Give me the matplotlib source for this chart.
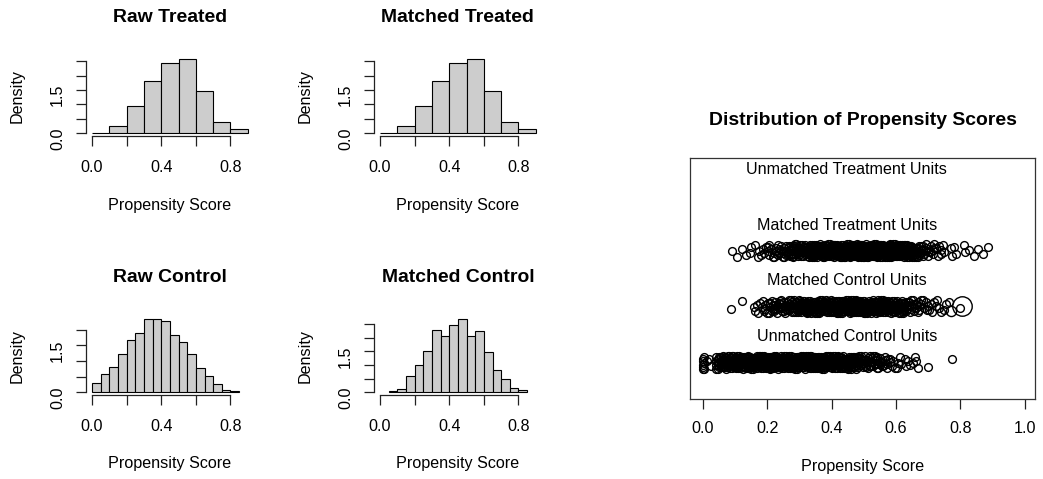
import numpy as np
import matplotlib
matplotlib.use("Agg")
import matplotlib.pyplot as plt

plt.rcParams['font.family'] = ['Liberation Sans', 'DejaVu Sans']

# histogram breaks and densities
treated_breaks = [0.0, 0.1, 0.2, 0.3, 0.4, 0.5, 0.6, 0.7, 0.8, 0.9]
raw_treated_density = [0.01, 0.24, 0.94, 1.80, 2.43, 2.57, 1.48, 0.38, 0.16]
matched_treated_density = [0.01, 0.24, 0.94, 1.80, 2.43, 2.57, 1.48, 0.38, 0.16]

raw_control_breaks = [0.0, 0.05, 0.1, 0.15, 0.2, 0.25, 0.3, 0.35, 0.4, 0.45,
                      0.5, 0.55, 0.6, 0.65, 0.7, 0.75, 0.8, 0.85]
raw_control_density = [0.31, 0.57, 0.81, 1.21, 1.67, 1.88, 2.34, 2.34, 2.29,
                       1.83, 1.60, 1.21, 0.79, 0.52, 0.26, 0.07, 0.04]

matched_control_breaks = [0.05, 0.1, 0.15, 0.2, 0.25, 0.3, 0.35, 0.4, 0.45,
                          0.5, 0.55, 0.6, 0.65, 0.7, 0.75, 0.8, 0.85]
matched_control_density = [0.05, 0.12, 0.59, 0.99, 1.49, 2.28, 2.04, 2.46,
                           2.68, 2.04, 2.24, 1.48, 0.82, 0.50, 0.15, 0.10]

# jitter plot: number of units per 0.02-wide propensity score bin (0.00 .. 0.90),
# estimated from the density of the bands
score_bin_starts = [0.00, 0.02, 0.04, 0.06, 0.08, 0.10, 0.12, 0.14, 0.16, 0.18,
                    0.20, 0.22, 0.24, 0.26, 0.28, 0.30, 0.32, 0.34, 0.36, 0.38,
                    0.40, 0.42, 0.44, 0.46, 0.48, 0.50, 0.52, 0.54, 0.56, 0.58,
                    0.60, 0.62, 0.64, 0.66, 0.68, 0.70, 0.72, 0.74, 0.76, 0.78,
                    0.80, 0.82, 0.84, 0.86, 0.88]
matched_treated_counts = [0, 0, 0, 0, 1, 1, 2, 2, 3, 4,
                          6, 8, 10, 12, 14, 16, 18, 20, 22, 23,
                          24, 25, 26, 27, 27, 28, 28, 27, 27, 26,
                          22, 19, 15, 12, 9, 6, 4, 3, 2, 2,
                          2, 1, 2, 1, 1]
matched_control_counts = [0, 0, 0, 0, 1, 0, 1, 1, 4, 6,
                          8, 9, 11, 13, 15, 19, 20, 19, 18, 20,
                          21, 22, 23, 23, 22, 18, 19, 20, 20, 18,
                          13, 12, 10, 8, 5, 4, 4, 2, 1, 1,
                          0, 0, 0, 0, 0]
unmatched_control_counts = [0, 2, 16, 19, 20, 21, 22, 22, 23, 23,
                            24, 24, 24, 24, 24, 24, 23, 23, 22, 22,
                            21, 20, 18, 16, 14, 12, 10, 8, 6, 5,
                            4, 3, 3, 2, 1, 0, 0, 0, 1, 0,
                            0, 0, 0, 0, 0]
# control units sitting right at a score of zero
zero_control_ps = [0.000, 0.000, 0.000, 0.001, 0.001, 0.002, 0.002, 0.003, 0.012]

# matched controls carrying a larger weight (drawn as bigger circles)
heavy_control_ps = [0.806, 0.772, 0.532, 0.448]
heavy_control_weight = [2.5, 1.3, 1.5, 1.3]

row_labels = ["Unmatched Treatment Units", "Matched Treatment Units",
              "Matched Control Units", "Unmatched Control Units"]

W, H = 1043, 479
BASE = 11.6
fig = plt.figure(figsize=(W / 100, H / 100), dpi=100)


def px_rect(left, top, right, bottom):
    return [left / W, 1 - bottom / H, (right - left) / W, (bottom - top) / H]


# one R-style histogram panel
def hist_panel(rect, breaks, density, title, ytop):
    ax = fig.add_axes(rect)
    b = np.array(breaks)
    ax.bar(b[:-1], density, width=np.diff(b), align='edge', color='#cdcdcd',
           edgecolor='black', linewidth=0.8)
    top = max(density)
    ax.set_xlim(-0.036, 0.936)
    ax.set_ylim(-0.04 * top, 1.04 * top)

    yt = np.arange(0, ytop + 0.01, 0.5)
    ax.set_yticks(yt)
    ax.set_yticklabels(['0.0' if abs(v) < 1e-9 else '1.5' if abs(v - 1.5) < 1e-9 else '' for v in yt])
    ax.set_xticks([0, 0.2, 0.4, 0.6, 0.8])
    ax.set_xticklabels(['0.0', '', '0.4', '', '0.8'])

    for s in ['top', 'right']:
        ax.spines[s].set_visible(False)
    ax.spines['left'].set_bounds(0, ytop)
    ax.spines['bottom'].set_bounds(0, 0.8)
    for s in ['left', 'bottom']:
        ax.spines[s].set_color('#222222')
        ax.spines[s].set_linewidth(0.9)

    ax.tick_params(axis='both', direction='out', length=7, width=0.9,
                   color='#222222', labelsize=BASE)
    ax.tick_params(axis='x', pad=10)
    ax.tick_params(axis='y', pad=8, labelrotation=90)

    ax.set_xlabel("Propensity Score", fontsize=BASE, va='center')
    ax.xaxis.set_label_coords(0.5, -0.86)
    ax.set_ylabel("Density", fontsize=BASE, va='center')
    ax.yaxis.set_label_coords(-0.41, 0.5)
    ax.text(0.5, 1.48, title, transform=ax.transAxes, ha='center', va='center',
            fontsize=BASE * 1.2, fontweight='bold')
    return ax


hist_panel(px_rect(85.8, 56.1, 254, 136.3), treated_breaks, raw_treated_density, "Raw Treated", 2.5)
hist_panel(px_rect(373.8, 56.1, 542, 136.3), treated_breaks, matched_treated_density, "Matched Treated", 2.5)
hist_panel(px_rect(85.8, 316, 254, 395.2), raw_control_breaks, raw_control_density, "Raw Control", 2.0)
hist_panel(px_rect(373.8, 316, 542, 395.2), matched_control_breaks, matched_control_density, "Matched Control", 2.5)

# jitter plot of the propensity scores
ax = fig.add_axes(px_rect(690, 158.3, 1035, 399))
ax.set_xlim(-0.04, 1.032)
ax.set_ylim(-0.16, 4.16)

BIN_W = 0.02
AMP = 0.12


def spread(counts, start_idx):
    # deterministic (low discrepancy) placement of the units inside their bin
    xs, offs = [], []
    i = start_idx
    for b0, c in zip(score_bin_starts, counts):
        for k in range(c):
            xs.append(b0 + BIN_W * ((0.5 + i * 0.7548776662) % 1))
            offs.append(((0.5 + i * 0.5698402910) % 1 - 0.5) * 2 * AMP)
            i += 1
    return np.array(xs), np.array(offs)


def jitter(n, start_idx):
    i = np.arange(start_idx, start_idx + n)
    return ((0.5 + i * 0.5698402910) % 1 - 0.5) * 2 * AMP


ms = 5.6
mew = 1.0
rows = [(matched_treated_counts, 2.5, 0), (matched_control_counts, 1.5, 1000),
        (unmatched_control_counts, 0.5, 2000)]
for counts, yc, s0 in rows:
    xs, offs = spread(counts, s0)
    ax.plot(xs, yc + offs, 'o', mfc='none', mec='black', ms=ms, mew=mew)

ax.plot(zero_control_ps, 0.5 + jitter(len(zero_control_ps), 3000), 'o',
        mfc='none', mec='black', ms=ms, mew=mew)

heavy_y = 1.5 + jitter(len(heavy_control_ps), 4003)
for p, w, y in zip(heavy_control_ps, heavy_control_weight, heavy_y):
    ax.plot([p], [y], 'o', mfc='none', mec='black', ms=ms * w, mew=mew)

for lab, y in zip(row_labels, [3.96, 2.96, 1.97, 0.97]):
    ax.text(0.447, y, lab, ha='center', va='center', fontsize=BASE)

ax.set_yticks([])
ax.set_xticks([0, 0.2, 0.4, 0.6, 0.8, 1.0])
ax.set_xticklabels(['0.0', '0.2', '0.4', '0.6', '0.8', '1.0'])
ax.tick_params(axis='x', direction='out', length=7, width=0.9, color='#222222',
               labelsize=BASE, pad=9)
for s in ax.spines.values():
    s.set_color('#333333')
    s.set_linewidth(0.9)
ax.set_xlabel("Propensity Score", fontsize=BASE, va='center')
ax.xaxis.set_label_coords(0.5, -0.282)
ax.text(0.5, 1.159, "Distribution of Propensity Scores", transform=ax.transAxes,
        ha='center', va='center', fontsize=BASE * 1.2, fontweight='bold')

fig.savefig("out.png", dpi=100)
